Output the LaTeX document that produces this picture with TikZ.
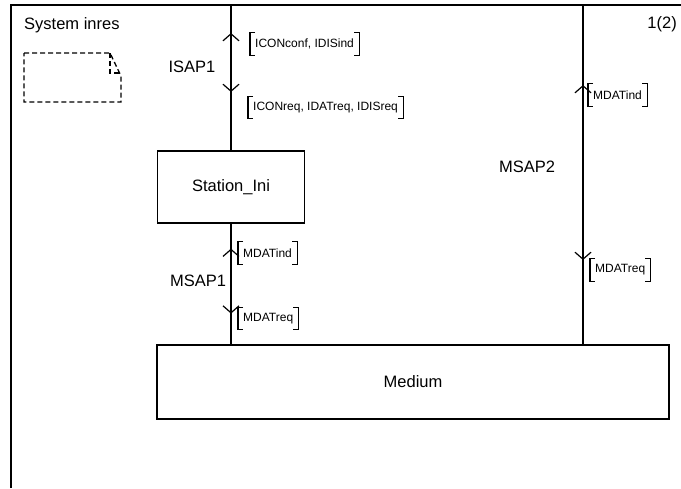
\documentclass[tikz,border=0pt]{standalone}
\usepackage{fontspec}
\setmainfont{Liberation Sans}
\usetikzlibrary{arrows.meta,decorations.markings}

\tikzset{
  blockbox/.style={draw, line width=1.2pt, font=\fontsize{16.5}{19}\selectfont, inner sep=0pt},
  lbl/.style={font=\fontsize{16.5}{19}\selectfont, inner sep=0pt},
  chan/.style={line width=1.2pt},
  siglist/.style={font=\fontsize{12}{14}\selectfont, inner xsep=5pt, inner ysep=0pt, minimum height=22pt, anchor=west},
  bracket/.style={line width=1.1pt},
  docline/.style={line width=1.3pt, dash pattern=on 5pt off 3pt},
  sigmarks/.style 2 args={postaction={decorate, decoration={markings,
    mark=at position #1 with {\arrowreversed{Straight Barb[length=7pt,width=16pt]}},
    mark=at position #2 with {\arrow{Straight Barb[length=7pt,width=16pt]}}}}}
}

\begin{document}
\begin{tikzpicture}[x=1pt, y=-1pt]
  \useasboundingbox (0,0) rectangle (681,488);

  % frame
  \draw[line width=1.2pt] (11,488) -- (11,5) -- (681,5);
  \node[lbl, anchor=base west] (sysname) at (24,29) {System inres};
  \node[lbl, anchor=base east] (page) at (677,28) {1(2)};

  % dashed document symbol
  \draw[docline] (24,53) -- (110,53) -- (121,76) -- (121,102) -- (24,102) -- cycle;
  \draw[docline] (110,53) -- (110,73) -- (121,73);

  % blocks
  \node[blockbox, minimum width=147pt, minimum height=72pt] (station) at (231,187) {Station\_Ini};
  \node[blockbox, minimum width=512pt, minimum height=74pt] (medium) at (413,382) {Medium};

  % channels
  \coordinate (isaptop) at (231,5);
  \coordinate (msaptop) at (583,5);
  \draw[chan, sigmarks={28pt}{87pt}] (isaptop) -- (station.north);
  \draw[chan, sigmarks={25pt}{90pt}] (station.south) -- (station.south |- medium.north);
  \draw[chan, sigmarks={80pt}{255pt}] (msaptop) -- (msaptop |- medium.north);

  \node[lbl] (isap) at (192,67) {ISAP1};
  \node[lbl] (msapone) at (198,281) {MSAP1};
  \node[lbl] (msaptwo) at (527,167) {MSAP2};

  % signal lists
  \node[siglist] (isapin) at (250,44) {ICONconf, IDISind};
  \node[siglist] (isapout) at (248,107.5) {ICONreq, IDATreq, IDISreq};
  \node[siglist] (msapin) at (238,253) {MDATind};
  \node[siglist] (msapout) at (238,318.5) {MDATreq};
  \node[siglist] (mediumin) at (588,95) {MDATind};
  \node[siglist] (mediumout) at (590,270) {MDATreq};

  \foreach \s in {isapin,isapout,msapin,msapout,mediumin,mediumout}{
    \draw[bracket] ([xshift=5pt]\s.north west) -- (\s.north west) -- (\s.south west) -- ++(5pt,0);
    \draw[bracket] ([xshift=-5pt]\s.north east) -- (\s.north east) -- (\s.south east) -- ++(-5pt,0);
  }
\end{tikzpicture}
\end{document}
